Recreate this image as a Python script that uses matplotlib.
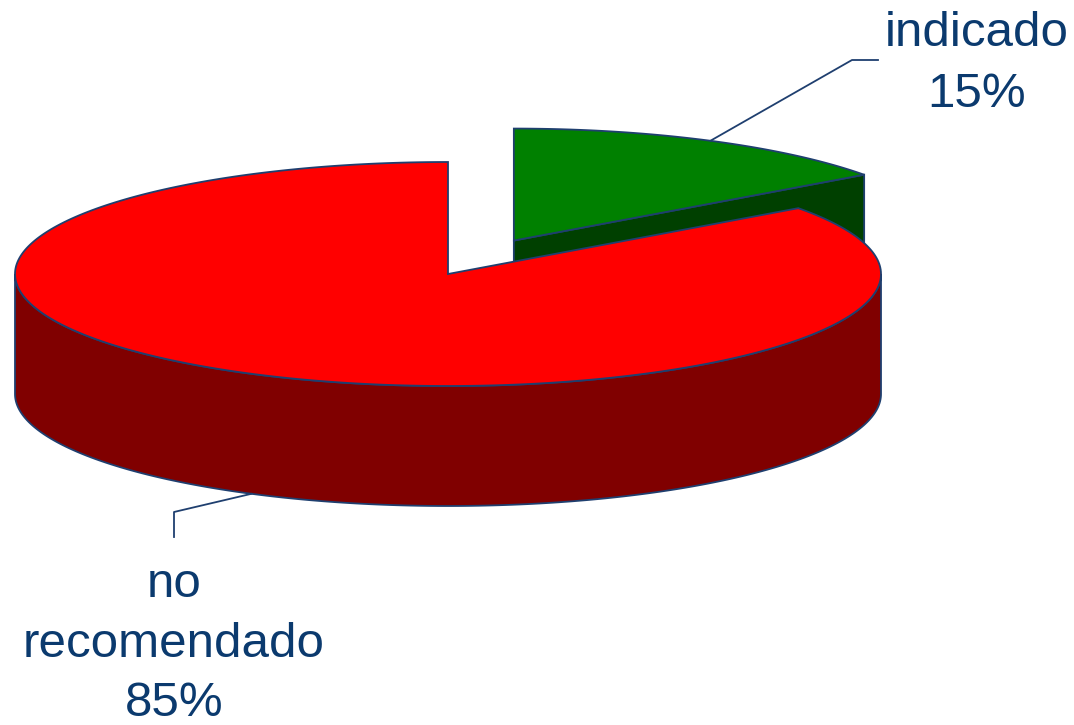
import numpy as np
import matplotlib
matplotlib.use("Agg")
import matplotlib.pyplot as plt
from matplotlib.patches import Polygon

# slice data (clockwise from 12 o'clock)
labels = ["indicado", "no\nrecomendado"]
values = [15, 85]
top_colors = ["#008000", "#FF0000"]
side_colors = ["#004000", "#800000"]
explode = [0.335, 0.0]

# pie geometry in pixels
cx, cy = 448, 274
rx, ry = 433, 112
depth = 120
edge = "#1F3F6F"
text_color = "#0B3A6E"

plt.rcParams['font.family'] = ['Liberation Sans', 'DejaVu Sans']

fig = plt.figure(figsize=(10.74, 7.25), dpi=100)
ax = fig.add_axes([0, 0, 1, 1])
ax.set_xlim(0, 1074)
ax.set_ylim(725, 0)
ax.axis("off")


def rim(x0, y0, t, dz=0):
    t = np.radians(t)
    return np.column_stack([x0 + rx * np.cos(t), y0 - ry * np.sin(t) + dz])


total = float(sum(values))
start = 90.0
slices = []
for lab, v, tc, sc, ex in zip(labels, values, top_colors, side_colors, explode):
    sweep = 360.0 * v / total
    a0, a1 = start, start - sweep
    mid = np.radians((a0 + a1) / 2)
    x0 = cx + ex * rx * np.cos(mid)
    y0 = cy - ex * ry * np.sin(mid)
    slices.append((lab, v, tc, sc, a0, a1, x0, y0))
    start = a1

for lab, v, tc, sc, a0, a1, x0, y0 in slices:
    # cut faces
    for a, vis in ((a0, np.cos(np.radians(a0)) < -1e-9),
                   (a1, np.cos(np.radians(a1)) > 1e-9)):
        if vis:
            p = rim(x0, y0, [a])[0]
            face = [[x0, y0], p, [p[0], p[1] + depth], [x0, y0 + depth]]
            ax.add_patch(Polygon(face, closed=True, fc=sc, ec=edge, lw=1.3))
    # outer wall, front half only
    for lo, hi in ((-180, 0), (180, 360), (-540, -360)):
        w0, w1 = max(a1, lo), min(a0, hi)
        if w1 > w0:
            t = np.linspace(w0, w1, 200)
            upper = rim(x0, y0, t)
            lower = rim(x0, y0, t[::-1], depth)
            ax.add_patch(Polygon(np.vstack([upper, lower]), closed=True,
                                 fc=sc, ec=edge, lw=1.3))
    # top
    t = np.linspace(a0, a1, 300)
    top = np.vstack([[x0, y0], rim(x0, y0, t)])
    ax.add_patch(Polygon(top, closed=True, fc=tc, ec=edge, lw=1.3))

# leader lines and labels
g = slices[0]
gm = (g[4] + g[5]) / 2
p = rim(g[6], g[7], [gm])[0]
ax.plot([p[0], 852, 878], [p[1], 60, 60], color=edge, lw=1.3)
ax.text(977, 64, "%s\n%d%%" % (g[0], g[1]), ha="center", va="center",
        fontsize=35.5, color=text_color, linespacing=1.46)

r = slices[1]
rm = (r[4] + r[5]) / 2
p = rim(r[6], r[7], [rm], depth)[0]
ax.plot([p[0], 174, 174], [p[1], 512, 537], color=edge, lw=1.3)
ax.text(174, 562, "%s\n%d%%" % (r[0], r[1]), ha="center", va="top",
        fontsize=35.5, color=text_color, linespacing=1.42)

fig.savefig("out.png", dpi=100)
